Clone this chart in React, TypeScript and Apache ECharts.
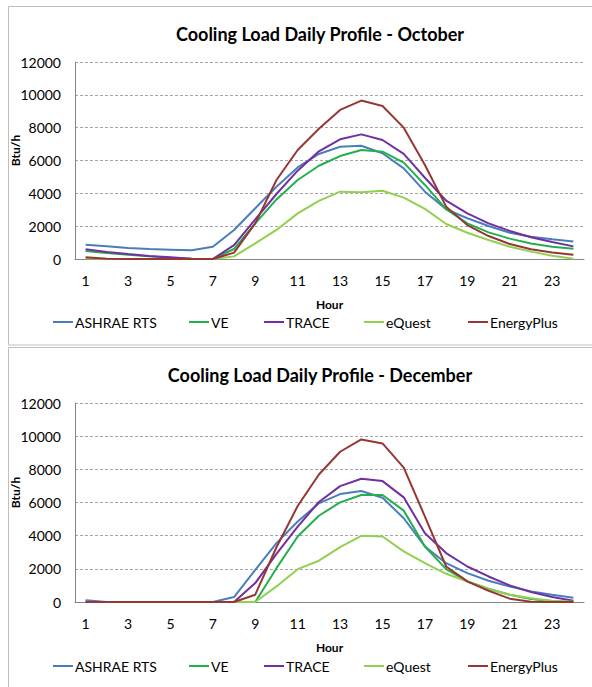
import React, { useEffect, useRef } from 'react';
import * as echarts from 'echarts';

const hours = ['1','2','3','4','5','6','7','8','9','10','11','12','13','14','15','16','17','18','19','20','21','22','23','24'];
const yTicks = [0, 2000, 4000, 6000, 8000, 10000, 12000];
const seriesNames = ['ASHRAE RTS', 'VE', 'TRACE', 'eQuest', 'EnergyPlus'];
const seriesColors = ['#4A7EBB', '#22AF4C', '#7030A0', '#92D050', '#953735'];

const octASHRAE = [870, 770, 670, 610, 570, 530, 750, 1770, 3090, 4400, 5580, 6400, 6840, 6900, 6440, 5520, 4100, 3030, 2480, 2010, 1600, 1360, 1200, 1060];
const octVE = [490, 370, 260, 160, 80, 20, 0, 610, 2170, 3630, 4810, 5680, 6270, 6640, 6540, 5870, 4510, 3030, 2170, 1620, 1240, 950, 750, 630];
const octTRACE = [590, 430, 300, 180, 100, 20, 0, 850, 2420, 3960, 5380, 6560, 7290, 7590, 7250, 6400, 4950, 3550, 2780, 2170, 1710, 1320, 1040, 770];
const octEQuest = [50, 0, 0, 0, 0, 0, 0, 160, 950, 1770, 2780, 3540, 4100, 4060, 4160, 3740, 3050, 2130, 1600, 1160, 750, 450, 200, 20];
const octEnergyPlus = [100, 20, 0, 0, 0, 0, 0, 390, 2170, 4810, 6640, 7930, 9080, 9650, 9320, 8000, 5730, 3190, 2070, 1400, 910, 590, 390, 260];

const decASHRAE = [100, 0, 0, 0, 0, 0, 0, 300, 1940, 3550, 4850, 5950, 6510, 6690, 6290, 5050, 3350, 2340, 1740, 1280, 940, 640, 440, 260];
const decVE = [0, 0, 0, 0, 0, 0, 0, 0, 0, 2040, 3950, 5200, 6010, 6450, 6450, 5510, 3350, 1980, 1240, 800, 440, 180, 40, 0];
const decTRACE = [0, 0, 0, 0, 0, 0, 0, 0, 1140, 2900, 4550, 6030, 6990, 7430, 7290, 6310, 4150, 2950, 2140, 1540, 1000, 600, 300, 80];
const decEQuest = [0, 0, 0, 0, 0, 0, 0, 0, 0, 940, 1980, 2490, 3310, 3990, 3950, 3050, 2340, 1700, 1240, 780, 440, 220, 80, 20];
const decEnergyPlus = [0, 0, 0, 0, 0, 0, 0, 0, 440, 3300, 5790, 7690, 9060, 9800, 9560, 8100, 5150, 2140, 1240, 680, 200, 20, 0, 0];

const octData = [octASHRAE, octVE, octTRACE, octEQuest, octEnergyPlus];
const decData = [decASHRAE, decVE, decTRACE, decEQuest, decEnergyPlus];
const titles = ['Cooling Load Daily Profile - October', 'Cooling Load Daily Profile - December'];

const FONT = 'Lato, "Open Sans", sans-serif';

export default function App() {
  const ref = useRef<HTMLDivElement>(null);

  useEffect(() => {
    if (!ref.current) return;
    const chart = echarts.init(ref.current, null, { renderer: 'svg' });

    const gridTops = [62, 403];
    const gridHeights = [197, 199];
    const titleTops = [25, 366];
    const legendTops = [315, 659];
    const legendLefts = [53, 189, 264, 364, 468];

    const grids = gridTops.map((t, i) => ({
      left: 75,
      top: t,
      width: 509,
      height: gridHeights[i],
      containLabel: false,
      outerBoundsMode: 'none',
    }));

    const xAxes = [0, 1].map((i) => ({
      type: 'category',
      gridIndex: i,
      data: hours,
      boundaryGap: true,
      axisLine: { lineStyle: { color: '#868686', width: 1 } },
      axisTick: { show: false },
      axisLabel: { interval: 1, margin: 14, fontSize: 14, color: '#000', fontFamily: FONT },
      name: 'Hour',
      nameLocation: 'middle',
      nameGap: 39,
      nameTextStyle: { fontSize: 12, fontWeight: 'bold', color: '#000', fontFamily: FONT },
    }));

    const yAxes = [0, 1].map((i) => ({
      type: 'value',
      gridIndex: i,
      min: yTicks[0],
      max: yTicks[yTicks.length - 1],
      interval: yTicks[1] - yTicks[0],
      axisLine: { show: true, lineStyle: { color: '#868686', width: 1 } },
      axisTick: { show: false },
      axisLabel: { margin: 14, fontSize: 14, color: '#000', fontFamily: FONT, formatter: (v: number) => String(v) },
      splitLine: { show: true, lineStyle: { color: '#a6a6a6', type: [3, 2], width: 1 } },
      name: 'Btu/h',
      nameLocation: 'middle',
      nameGap: 54,
      nameMoveOverlap: false,
      nameTextStyle: { fontSize: 12, fontWeight: 'bold', color: '#000', fontFamily: FONT, padding: [0, 0, 0, 20] },
    }));

    const series: any[] = [];
    [octData, decData].forEach((set, gi) => {
      set.forEach((d, si) => {
        series.push({
          type: 'line',
          name: seriesNames[si],
          xAxisIndex: gi,
          yAxisIndex: gi,
          data: d,
          showSymbol: false,
          symbol: 'none',
          lineStyle: { color: seriesColors[si], width: 2 },
          itemStyle: { color: seriesColors[si] },
          z: 2 + si,
        });
      });
    });

    const legends: any[] = [];
    legendTops.forEach((lt) => {
      seriesNames.forEach((n, si) => {
        legends.push({
          data: [n],
          left: legendLefts[si],
          top: lt,
          padding: 0,
          itemWidth: 20,
          itemHeight: 2,
          icon: 'rect',
          itemGap: 0,
          selectedMode: false,
          textStyle: { fontSize: 14, color: '#000', fontFamily: FONT, padding: [0, 0, 0, -3] },
        });
      });
    });

    const option: any = {
      animation: false,
      backgroundColor: '#fff',
      title: titles.map((t, i) => ({
        text: t,
        left: 320,
        top: titleTops[i],
        textAlign: 'center',
        padding: 0,
        textStyle: { fontSize: 18, fontWeight: 'bold', color: '#000', fontFamily: FONT },
      })),
      grid: grids,
      xAxis: xAxes,
      yAxis: yAxes,
      legend: legends,
      series,
      graphic: [
        { type: 'rect', shape: { x: 8.5, y: 6.5, width: 600, height: 338.5 }, style: { fill: 'none', stroke: '#bfbfbf', lineWidth: 1 }, z: -1 },
        { type: 'rect', shape: { x: 8.5, y: 347.5, width: 600, height: 400 }, style: { fill: 'none', stroke: '#bfbfbf', lineWidth: 1 }, z: -1 },
      ],
    };

    chart.setOption(option);
    return () => chart.dispose();
  }, []);

  return <div ref={ref} style={{ position: 'absolute', left: 0, top: 0, width: 592, height: 687 }} />;
}
